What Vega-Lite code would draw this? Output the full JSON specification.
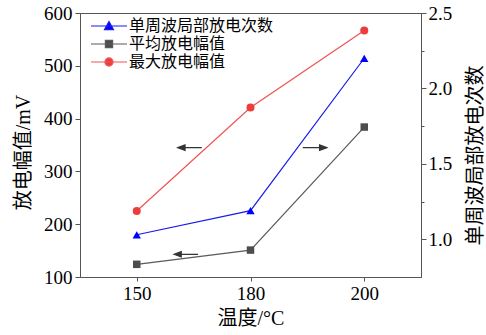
{
  "$schema": "https://vega.github.io/schema/vega-lite/v6.json",
  "width": 341,
  "height": 264,
  "autosize": "none",
  "padding": {"left": 80, "top": 13, "right": 65, "bottom": 58},
  "background": "white",
  "config": {
    "view": {"stroke": "#555555", "strokeWidth": 1},
    "axis": {
      "grid": false,
      "domainColor": "#555555",
      "tickColor": "#555555",
      "labelColor": "#000000",
      "titleColor": "#000000",
      "labelFont": "Liberation Serif, Times New Roman, serif",
      "labelFontSize": 19,
      "titleFont": "Liberation Serif, Noto Sans CJK SC, serif",
      "titleFontSize": 20,
      "titleFontWeight": "normal"
    }
  },
  "datasets": {
    "series": [
      {"温度": 150, "系列": "单周波局部放电次数", "值": 1.03},
      {"温度": 180, "系列": "单周波局部放电次数", "值": 1.19},
      {"温度": 200, "系列": "单周波局部放电次数", "值": 2.2},
      {"温度": 150, "系列": "平均放电幅值", "值": 124},
      {"温度": 180, "系列": "平均放电幅值", "值": 151},
      {"温度": 200, "系列": "平均放电幅值", "值": 384},
      {"温度": 150, "系列": "最大放电幅值", "值": 225},
      {"温度": 180, "系列": "最大放电幅值", "值": 421},
      {"温度": 200, "系列": "最大放电幅值", "值": 567}
    ],
    "arrows": [
      {"温度": 164, "值": 345, "方向": "左"},
      {"温度": 191.3, "值": 345, "方向": "右"},
      {"温度": 163, "值": 143, "方向": "左"}
    ]
  },
  "layer": [
    {
      "layer": [
        {
          "data": {"name": "series"},
          "transform": [{"filter": "datum['系列'] !== '单周波局部放电次数'"}],
          "mark": {"type": "line", "strokeWidth": 1.2},
          "encoding": {
            "x": {
              "field": "温度", "type": "quantitative",
              "scale": {"type": "linear", "domain": [135, 150, 180, 200, 210], "range": [0, 56.75, 170.5, 284.25, 341], "nice": false, "zero": false},
              "axis": {"values": [150, 180, 200], "format": "d", "title": "温度/°C", "tickSize": 4, "labelPadding": 3, "titlePadding": 5}
            },
            "y": {
              "field": "值", "type": "quantitative",
              "scale": {"domain": [100, 600], "nice": false, "zero": false},
              "axis": {"values": [100, 200, 300, 400, 500, 600], "orient": "left", "title": "放电幅值/mV", "tickSize": 5, "labelPadding": 3, "titlePadding": 10, "titleY": 139}
            },
            "color": {
              "field": "系列", "type": "nominal",
              "scale": {"domain": ["单周波局部放电次数", "平均放电幅值", "最大放电幅值"], "range": ["#1a1aee", "#5a5a5a", "#ee5555"]},
              "legend": {
                "orient": "none", "legendX": 19, "legendY": 3, "title": null,
                "symbolSize": 324, "labelFontSize": 16, "labelFont": "Noto Sans CJK SC", "labelColor": "#000000",
                "labelOffset": 10, "rowPadding": 0, "padding": 0,
                "encode": {
                  "symbols": {
                    "update": {
                      "shape": {"signal": "datum.value === '单周波局部放电次数' ? 'M-2,0H2M0,-0.5L0.5,0.4L-0.5,0.4Z' : datum.value === '平均放电幅值' ? 'M-2,0H2M-0.4,-0.4H0.4V0.4H-0.4Z' : 'M-2,0H2M-0.45,0A0.45,0.45,0,1,0,0.45,0A0.45,0.45,0,1,0,-0.45,0Z'"},
                      "fill": {"signal": "datum.value === '单周波局部放电次数' ? '#0000ff' : datum.value === '平均放电幅值' ? '#4d4d4d' : '#ee3b3b'"},
                      "fillOpacity": {"value": 1},
                      "stroke": {"signal": "datum.value === '单周波局部放电次数' ? '#1a1aee' : datum.value === '平均放电幅值' ? '#5a5a5a' : '#ee5555'"},
                      "strokeWidth": {"value": 1.2},
                      "opacity": {"value": 1}
                    }
                  }
                }
              }
            }
          }
        },
        {
          "data": {"name": "series"},
          "transform": [{"filter": "datum['系列'] === '平均放电幅值'"}],
          "mark": {"type": "point", "shape": "square", "filled": true, "size": 56, "color": "#4d4d4d", "opacity": 1},
          "encoding": {
            "x": {"field": "温度", "type": "quantitative"},
            "y": {"field": "值", "type": "quantitative"}
          }
        },
        {
          "data": {"name": "series"},
          "transform": [{"filter": "datum['系列'] === '最大放电幅值'"}],
          "mark": {"type": "point", "shape": "circle", "filled": true, "size": 64, "color": "#ee3b3b", "opacity": 1},
          "encoding": {
            "x": {"field": "温度", "type": "quantitative"},
            "y": {"field": "值", "type": "quantitative"}
          }
        },
        {
          "data": {"name": "arrows"},
          "transform": [{"filter": "datum['方向'] === '左'"}],
          "mark": {"type": "point", "shape": "M-2,0L-0.8,-0.45L-0.8,0.45Z M-0.8,0H2", "filled": true, "size": 144, "color": "#333333", "stroke": "#333333", "strokeWidth": 1.2, "opacity": 1},
          "encoding": {
            "x": {"field": "温度", "type": "quantitative"},
            "y": {"field": "值", "type": "quantitative"}
          }
        },
        {
          "data": {"name": "arrows"},
          "transform": [{"filter": "datum['方向'] === '右'"}],
          "mark": {"type": "point", "shape": "M2,0L0.8,-0.45L0.8,0.45Z M0.8,0H-2", "filled": true, "size": 144, "color": "#333333", "stroke": "#333333", "strokeWidth": 1.2, "opacity": 1},
          "encoding": {
            "x": {"field": "温度", "type": "quantitative"},
            "y": {"field": "值", "type": "quantitative"}
          }
        }
      ]
    },
    {
      "data": {"name": "series"},
      "transform": [{"filter": "datum['系列'] === '单周波局部放电次数'"}],
      "layer": [
        {
          "mark": {"type": "line", "strokeWidth": 1.2},
          "encoding": {
            "x": {"field": "温度", "type": "quantitative"},
            "y": {
              "field": "值", "type": "quantitative",
              "scale": {"domain": [0.75, 2.5], "nice": false, "zero": false},
              "axis": {
                "orient": "right",
                "values": [1, 1.25, 1.5, 1.75, 2, 2.25, 2.5],
                "labelExpr": "datum.value % 0.5 === 0 ? format(datum.value, '.1f') : ''",
                "tickSize": {"condition": {"test": "datum.value % 0.5 !== 0", "value": 3}, "value": 5},
                "labelPadding": 2,
                "title": "单周波局部放电次数",
                "titleAngle": 270,
                "titleBaseline": "top",
                "titlePadding": 14,
                "titleY": 142
              }
            },
            "color": {"field": "系列", "type": "nominal"}
          }
        },
        {
          "mark": {"type": "point", "shape": "triangle-up", "filled": true, "size": 70, "color": "#0000ff", "opacity": 1},
          "encoding": {
            "x": {"field": "温度", "type": "quantitative"},
            "y": {"field": "值", "type": "quantitative"}
          }
        }
      ]
    }
  ],
  "resolve": {"scale": {"y": "independent"}}
}
